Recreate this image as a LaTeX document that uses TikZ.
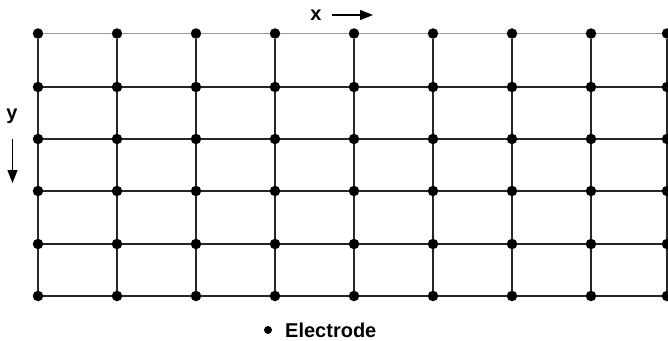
\documentclass[tikz,border=0pt]{standalone}
\usepackage{fontspec}
\setmainfont{Liberation Sans}
\usetikzlibrary{arrows.meta}
\begin{document}
\begin{tikzpicture}[x=1pt,y=-1pt,
  electrode/.style={circle,fill=black,inner sep=0pt,minimum size=10.5pt},
  wire/.style={line width=1.4pt,black!85},
  topwire/.style={line width=1.4pt,black!40},
  lbl/.style={font=\fontsize{20}{22}\selectfont\bfseries,inner sep=0pt},
  axisarrow/.style={line width=1.4pt,-{Triangle[length=13pt,width=10pt]}}]
\useasboundingbox (0,0) rectangle (668,340);
% electrodes
\foreach \c [count=\i] in {38,117,196,275,354,433,512,591,667}{
  \foreach \r [count=\j] in {33.5,87,139,191,244,296}{
    \node[electrode] (e\i-\j) at (\c,\r) {};
  }
}
% horizontal wires
\foreach \i in {1,...,8}{
  \pgfmathtruncatemacro\n{\i+1}
  \draw[topwire] (e\i-1) -- (e\n-1);
  \foreach \j in {2,...,6}{
    \draw[wire] (e\i-\j) -- (e\n-\j);
  }
}
% vertical wires
\foreach \i in {1,...,9}{
  \foreach \j in {1,...,5}{
    \pgfmathtruncatemacro\m{\j+1}
    \draw[wire] (e\i-\j) -- (e\i-\m);
  }
}
% axis labels
\node[lbl] (xl) at (316,15) {x};
\coordinate (xa) at (332,15);
\coordinate (xb) at (373,15);
\draw[axisarrow] (xa) -- (xb);
\node[lbl] (yl) at (12,116) {y};
\coordinate (ya) at (12.5,139);
\coordinate (yb) at (12.5,183);
\draw[axisarrow] (ya) -- (yb);
% legend
\node[electrode,minimum size=8pt] (leg) at (268,330) {};
\node[lbl,anchor=west] (legt) at (285,330) {Electrode};
\end{tikzpicture}
\end{document}
